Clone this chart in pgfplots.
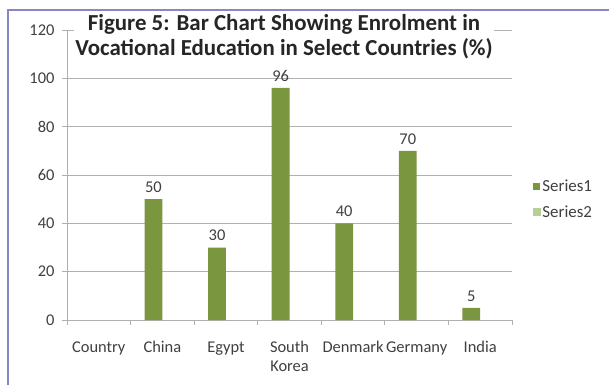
\documentclass[border=0pt]{standalone}
\usepackage{fontspec}
\setmainfont{Carlito}
\usepackage{pgfplots}
\pgfplotsset{compat=1.18}
\definecolor{sone}{HTML}{7A963F}
\definecolor{stwo}{HTML}{B9CD96}
\definecolor{txt}{HTML}{404040}
\definecolor{gridc}{HTML}{B0B0B0}
\begin{document}
\begin{tikzpicture}[x=1bp,y=1bp]
\useasboundingbox (0,0) rectangle (609,384);
\fill[white] (0,0) rectangle (609,384);
\draw[line width=1.2bp, color=blue!35!gray!70] (8,-10) rectangle (640,374);
\begin{axis}[
  at={(67bp,64bp)}, anchor=south west,
  scale only axis, width=445bp, height=290bp,
  xmin=-0.5, xmax=6.5, ymin=0, ymax=120,
  ytick={0,20,...,120},
  xtick={-0.5,0.5,...,6.5},
  xticklabels={},
  extra x ticks={0,...,6},
  extra x tick labels={Country,China,Egypt,{South\\Korea},Denmark,Germany,India},
  extra x tick style={major tick length=0pt, xmajorgrids=false},
  xticklabel style={align=center, font=\fontsize{16.5}{18.5}\selectfont, text=txt, yshift=-18bp},
  yticklabel style={font=\fontsize{16.5}{18}\selectfont, text=txt, xshift=-4bp},
  major tick length=5bp,
  tick align=outside,
  ymajorgrids, xmajorgrids=false,
  grid style={color=gridc, line width=0.8bp},
  axis x line*=bottom, axis y line*=left,
  axis line style={color=gridc, line width=0.8bp},
  every tick/.style={color=gridc, line width=0.8bp},
  /pgf/number format/assume math mode=true,
  ybar, bar width=0.28, bar shift=-0.14,
  nodes near coords,
  every node near coord/.append style={font=\fontsize{16.5}{18}\selectfont, text=txt, yshift=3bp},
  legend style={at={(1.04,0.417)}, anchor=west, draw=none, fill=none,
    font=\fontsize{17}{19}\selectfont, text=txt, row sep=9bp},
  legend cell align=left,
]
\addplot[fill=sone, draw=none,
  legend image code/.code={\fill[sone] (0bp,-3.5bp) rectangle (7bp,3.5bp);}]
  coordinates {(1,50) (2,30) (3,96) (4,40) (5,70) (6,5)};
\addlegendentry{Series1}
\addlegendimage{legend image code/.code={\fill[stwo] (0bp,-3.5bp) rectangle (7bp,3.5bp);}}
\addlegendentry{Series2}
\end{axis}
\node[fill=white, inner sep=1bp, align=center, font=\bfseries\fontsize{23}{25}\selectfont, text=black!85] at (284,347.5)
  {Figure 5: Bar Chart Showing Enrolment in\\Vocational Education in Select Countries (\%)};
\end{tikzpicture}
\end{document}
